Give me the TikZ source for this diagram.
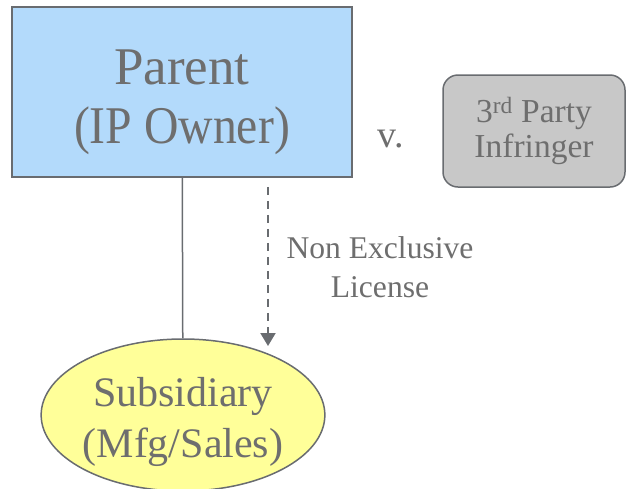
\documentclass[tikz,border=0pt]{standalone}
\usepackage{fontspec}
\usepackage{graphicx}
\setmainfont{Liberation Serif}
\usetikzlibrary{arrows.meta,shapes.geometric}
\definecolor{ipblue}{RGB}{179,218,251}
\definecolor{infgray}{RGB}{200,200,200}
\definecolor{subyellow}{RGB}{255,255,153}
\definecolor{linegray}{RGB}{105,108,112}
\definecolor{textgray}{RGB}{110,110,110}
\begin{document}
\begin{tikzpicture}[x=1pt,y=-1pt]
	\tikzstyle{owner} = [draw=linegray, line width=1.5, fill=ipblue, minimum width=340, minimum height=170, inner sep=0, text=textgray, align=center, text height=102pt, text depth=0pt, font=\fontsize{53}{59}\selectfont]
	\tikzstyle{infringer} = [draw=linegray, line width=1.5, fill=infgray, rounded corners=15, minimum width=182, minimum height=112, inner sep=0, text=textgray, align=center, font=\fontsize{33.5}{35}\selectfont]
	\tikzstyle{subsidiary} = [ellipse, draw=linegray, line width=1.5, fill=subyellow, minimum width=274, minimum height=152, inner sep=0, text=textgray, align=center, text height=85pt, text depth=0pt, font=\fontsize{42}{51}\selectfont]
	\tikzstyle{plain} = [inner sep=0, outer sep=0, text=textgray, align=center]
	\tikzstyle{link} = [draw=linegray, line width=1.5]
	\tikzstyle{license} = [draw=linegray, line width=2, dash pattern=on 8 off 6, -{Triangle[length=13,width=15]}]
\useasboundingbox (0,0) rectangle (626,488);
\node [owner] (parent) at (182,92) {Parent\\\scalebox{0.9}[1]{(IP Owner)}};
\node [infringer] (inf) at (534,131) {3\textsuperscript{rd} Party\\Infringer};
\node [subsidiary] (sub) at (183,415) {Subsidiary\\(Mfg/Sales)};
\node [plain, anchor=base, font=\fontsize{38}{40}\selectfont] (versus) at (391,147) {v.};
\node [plain, font=\fontsize{31.6}{39}\selectfont] (lic) at (380,267) {Non Exclusive\\License};
\coordinate (lictip) at (268,346);
\draw [link] (parent) -- (sub);
\draw [license, shorten <=9] (parent.south -| lictip) -- (lictip);
\end{tikzpicture}
\end{document}
